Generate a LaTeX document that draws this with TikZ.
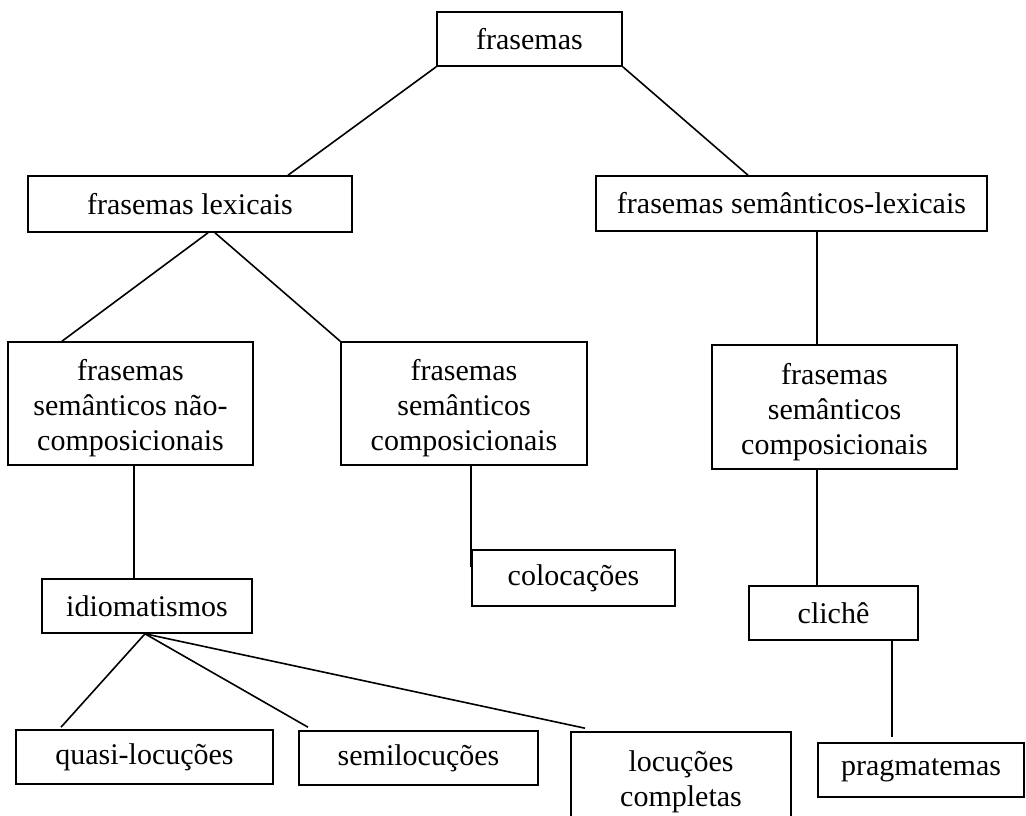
\documentclass[tikz,border=0pt]{standalone}
\usepackage{fontspec}
\setmainfont{Liberation Serif}
\usetikzlibrary{calc}
% taller first line, to lower the text of the multi-line boxes a little
\newcommand\firstlinestrut{\rule{0pt}{31pt}}
\begin{document}
\begin{tikzpicture}[x=1pt,y=-1pt,
  box/.style={draw, line width=1.6pt, inner sep=0pt, align=center,
    font=\fontsize{30}{35}\selectfont},
  link/.style={line width=1.6pt}]
\useasboundingbox (0,0) rectangle (1026,816);
\clip (0,0) rectangle (1026,816);
\fill[white] (0,0) rectangle (1026,816);

% tree boxes
\node[box, minimum width=185pt, minimum height=54pt] (top) at (529.5,39) {frasemas};
\node[box, minimum width=324pt, minimum height=56pt] (lex) at (190,204) {frasemas lexicais};
\node[box, minimum width=391pt, minimum height=55pt] (semlex) at (791.5,203.5) {frasemas semânticos-lexicais};
\node[box, minimum width=245pt, minimum height=123pt] (nc) at (130.5,403.5) {\firstlinestrut frasemas\\semânticos não-\\composicionais};
\node[box, minimum width=246pt, minimum height=123pt] (mc) at (464,403.5) {\firstlinestrut frasemas\\semânticos\\composicionais};
\node[box, minimum width=245pt, minimum height=124pt] (rc) at (834.5,407) {\firstlinestrut frasemas\\semânticos\\composicionais};
\node[box, minimum width=203pt, minimum height=56pt] (col) at (573.5,578) {colocações};
\node[box, minimum width=210pt, minimum height=54pt] (idio) at (147,606) {idiomatismos};
\node[box, minimum width=169pt, minimum height=54pt] (cli) at (833.5,613) {clichê};
\node[box, minimum width=257pt, minimum height=54pt] (quasi) at (144.5,757) {quasi-locuções};
\node[box, minimum width=239pt, minimum height=54pt] (semi) at (418.5,758) {semilocuções};
\node[box, minimum width=220pt, minimum height=90pt] (loc) at (681,777) {\firstlinestrut locuções\\completas};
\node[box, minimum width=206pt, minimum height=54pt] (prag) at (921,770) {pragmatemas};

% free end of the stub above colocações
\coordinate (colstub) at (471,567);

% connectors
\draw[link] (top.south west) -- ([xshift=98pt]lex.north);
\draw[link] (top.south east) -- ([xshift=-43.5pt]semlex.north);
\draw[link] ([xshift=18pt]lex.south) -- ([xshift=-68.5pt]nc.north);
\draw[link] ([xshift=25pt]lex.south) -- (mc.north west);
\draw[link] ([xshift=25.5pt]semlex.south) -- ([xshift=-17.5pt]rc.north);
\draw[link] ([xshift=3.5pt]nc.south) -- ([xshift=-13pt]idio.north);
\draw[link] ([xshift=7pt]mc.south) -- (colstub);
\draw[link] ([xshift=-2pt]idio.south) -- ([xshift=-83.5pt,yshift=2pt]quasi.north);
\draw[link] ([xshift=-2pt]idio.south) -- ([xshift=-110.5pt,yshift=3pt]semi.north);
\draw[link] ([xshift=-2pt]idio.south) -- ([xshift=-96pt,yshift=3pt]loc.north);
\draw[link] ([xshift=-17.5pt]rc.south) -- ([xshift=-16.5pt]cli.north);
\draw[link] ([xshift=58.5pt]cli.south) -- ([xshift=-29pt,yshift=5pt]prag.north);
\end{tikzpicture}
\end{document}
